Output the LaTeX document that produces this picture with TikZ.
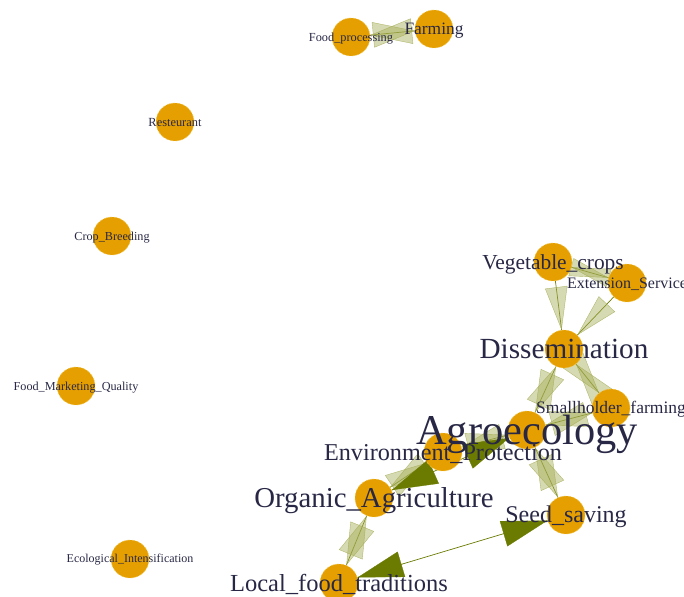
\documentclass[tikz,border=0pt]{standalone}
\usepackage{fontspec}
\setmainfont{Liberation Serif}
\usetikzlibrary{calc}
\definecolor{vfill}{RGB}{230,159,0}
\definecolor{vrim}{RGB}{240,195,70}
\definecolor{lbltxt}{RGB}{40,40,70}
\definecolor{darkol}{RGB}{107,122,0}
\definecolor{lightol}{RGB}{165,172,85}
\pgfdeclarelayer{bg}
\pgfdeclarelayer{fg}
\pgfsetlayers{bg,main,fg}
\tikzset{
  vtx/.style={circle,minimum size=38pt,inner sep=0pt,fill=vfill,draw=vrim,densely dashed,line width=0.5pt},
  lbl/.style={text=lbltxt,inner sep=0pt},
  edge/.style={draw=darkol,line width=0.7pt},
  lighthead/.style={fill=lightol,fill opacity=0.45,draw=lightol,draw opacity=0.8,line width=0.4pt,solid},
  darkhead/.style={fill=darkol,draw=darkol,line width=0.3pt,solid}
}
% #1 from, #2 to, #3 style, #4 base distance from target, #5 half width
\newcommand\arrhead[5]{%
  \path ($(#2)!20pt!(#1)$) coordinate (tipP) ($(#2)!#4!(#1)$) coordinate (baseP);
  \filldraw[#3] (tipP) -- ($(baseP)!#5!90:(tipP)$) -- ($(baseP)!#5!-90:(tipP)$) -- cycle;}
\newcommand\lightpair[2]{\arrhead{#1}{#2}{lighthead}{61pt}{12.5pt}\arrhead{#2}{#1}{lighthead}{61pt}{12.5pt}}
\newcommand\darkpair[2]{\arrhead{#1}{#2}{darkhead}{65pt}{13pt}\arrhead{#2}{#1}{darkhead}{65pt}{13pt}}
\newcommand\lab[3]{\node[lbl,font=\fontsize{#2pt}{#2pt}\selectfont,anchor=base] (#1l) at ($(#1)+(0,{0.331*#2})$) {#3};}
\begin{document}
\begin{tikzpicture}[x=1pt,y=-1pt]
\useasboundingbox (0,0) rectangle (684,596);
% vertices
\node[vtx] (FP) at (351,37) {};
\node[vtx] (FA) at (434,29) {};
\node[vtx] (RE) at (175,122) {};
\node[vtx] (CB) at (112,236) {};
\node[vtx] (FM) at (76,386) {};
\node[vtx] (EI) at (130,559) {};
\node[vtx] (VC) at (553,262) {};
\node[vtx] (ES) at (627,283) {};
\node[vtx] (DI) at (564,349) {};
\node[vtx] (SF) at (611,408) {};
\node[vtx] (AG) at (527,430) {};
\node[vtx] (EP) at (443,452) {};
\node[vtx] (OA) at (374,498) {};
\node[vtx] (SS) at (566,515) {};
\node[vtx] (LF) at (339,583) {};
% edges
\begin{pgfonlayer}{bg}
\foreach \a/\b in {FP/FA,VC/ES,VC/DI,ES/DI,DI/AG,DI/SF,SF/AG,EP/AG,AG/SS,EP/OA,OA/LF,OA/AG,SS/LF}
  \draw[edge] (\a) -- (\b);
\lightpair{FP}{FA}
\arrhead{VC}{ES}{lighthead}{58pt}{9pt}\arrhead{ES}{VC}{lighthead}{58pt}{9pt}
\arrhead{VC}{DI}{lighthead}{62pt}{11pt}
\arrhead{ES}{DI}{lighthead}{62pt}{11pt}
\lightpair{DI}{AG}
\lightpair{DI}{SF}
\lightpair{SF}{AG}
\lightpair{EP}{AG}
\lightpair{AG}{SS}
\lightpair{EP}{OA}
\lightpair{OA}{LF}
\darkpair{OA}{AG}
\darkpair{SS}{LF}
\end{pgfonlayer}
% labels
\begin{pgfonlayer}{fg}
\lab{FP}{12.3}{Food\_processing}
\lab{FA}{17.4}{Farming}
\lab{RE}{12.4}{Resteurant}
\lab{CB}{12.2}{Crop\_Breeding}
\lab{FM}{12.2}{Food\_Marketing\_Quality}
\lab{EI}{12}{Ecological\_Intensification}
\lab{VC}{21.4}{Vegetable\_crops}
\lab{ES}{16}{Extension\_Service}
\lab{DI}{29.2}{Dissemination}
\lab{SF}{17.5}{Smallholder\_farming}
\lab{AG}{42.4}{Agroecology}
\lab{EP}{24.2}{Environment\_Protection}
\lab{OA}{28.8}{Organic\_Agriculture}
\lab{SS}{24}{Seed\_saving}
\lab{LF}{24.5}{Local\_food\_traditions}
\end{pgfonlayer}
\end{tikzpicture}
\end{document}
